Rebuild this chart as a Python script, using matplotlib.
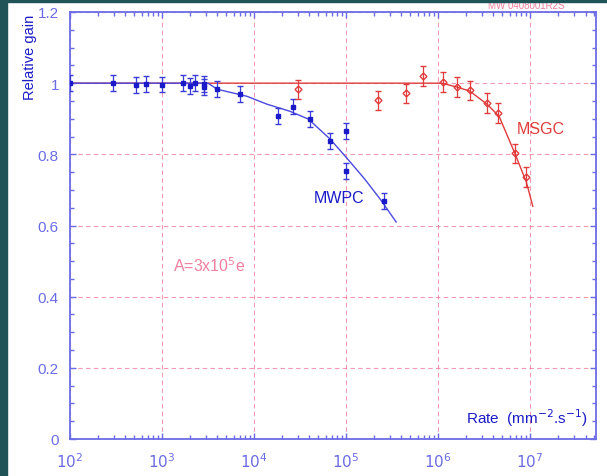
import matplotlib
matplotlib.use("Agg")
import matplotlib.pyplot as plt
from matplotlib.patches import Rectangle
import matplotlib.ticker as mticker

plt.rcParams['font.family'] = ['Liberation Sans', 'DejaVu Sans']

# MWPC data (blue)
mwpc_rate = [100, 293, 520, 670, 1000, 1690, 2000, 2290, 2860, 2860, 3970, 7000,
             18000, 26500, 41000, 67000, 100000, 100000, 260000]
mwpc_gain = [1.0, 1.0, 0.994, 0.997, 0.996, 1.0, 0.992, 1.0, 0.997, 0.989, 0.983, 0.969,
             0.907, 0.934, 0.899, 0.837, 0.865, 0.753, 0.669]
mwpc_err = 0.022

# MSGC data (red)
msgc_rate = [30000, 223000, 450000, 690000, 1130000, 1610000, 2230000, 3400000,
             4500000, 6900000, 9100000]
msgc_gain = [0.983, 0.952, 0.972, 1.02, 1.003, 0.989, 0.98, 0.944, 0.916, 0.803, 0.736]
msgc_err = 0.027

# Fit curves
mwpc_fit_rate = [100, 3160, 3970, 8400, 13800, 24500, 39000, 67000, 100000, 160000, 235000, 350000]
mwpc_fit_gain = [1.0, 1.0, 0.983, 0.963, 0.941, 0.921, 0.899, 0.843, 0.792, 0.730, 0.674, 0.61]
msgc_fit_rate = [100, 1100000, 1600000, 2200000, 3400000, 4600000, 6900000, 9100000, 10700000]
msgc_fit_gain = [1.0, 1.0, 0.989, 0.978, 0.941, 0.907, 0.80, 0.722, 0.654]

x_ticks = [1e2, 1e3, 1e4, 1e5, 1e6, 1e7]
x_ticklabels = ['$10^{2}$', '$10^{3}$', '$10^{4}$', '$10^{5}$', '$10^{6}$', '$10^{7}$']
y_ticks = [0, 0.2, 0.4, 0.6, 0.8, 1.0, 1.2]
y_ticklabels = ['0', '0.2', '0.4', '0.6', '0.8', '1', '1.2']

BLUE = '#1a1ac8'
AXBLUE = '#6b6be6'
RED = '#e03c3c'
PINK = '#f07e9e'
DARK = '#1f5358'

W, H = 607, 477
fig = plt.figure(figsize=(W / 100, H / 100), dpi=100)
fig.patch.set_facecolor('white')
ax = fig.add_axes([70 / W, 1 - 440 / H, (596 - 70) / W, (440 - 13) / H])
ax.set_xscale('log')
ax.set_xlim(1e2, 5.2e7)
ax.set_ylim(0, 1.2)

for s in ax.spines.values():
    s.set_color(AXBLUE)
    s.set_linewidth(1.3)

ax.set_xticks(x_ticks)
ax.set_xticklabels(x_ticklabels)
ax.xaxis.set_minor_locator(mticker.LogLocator(base=10, subs=range(2, 10), numticks=20))
ax.xaxis.set_minor_formatter(mticker.NullFormatter())
ax.set_yticks(y_ticks)
ax.set_yticklabels(y_ticklabels)
ax.yaxis.set_minor_locator(mticker.MultipleLocator(0.05))
ax.tick_params(which='both', direction='in', top=True, right=True, colors=AXBLUE,
               labelcolor=AXBLUE, labelsize=11)
ax.tick_params(which='major', length=4, width=1)
ax.tick_params(which='minor', length=3, width=1)
ax.tick_params(axis='x', which='major', pad=9)
ax.tick_params(axis='y', which='major', pad=8)

ax.grid(True, which='major', color=PINK, linestyle=(0, (4, 3)), linewidth=0.8, alpha=0.8)

ax.plot(msgc_fit_rate, msgc_fit_gain, color=RED, lw=1.0, zorder=3)
ax.plot(mwpc_fit_rate, mwpc_fit_gain, color='#4a4ae0', lw=1.0, zorder=4)

ax.errorbar(mwpc_rate, mwpc_gain, yerr=mwpc_err, fmt='s', ms=3.5, color=BLUE,
            mfc=BLUE, mec=BLUE, ecolor='#3a3ad8', elinewidth=0.9, capsize=2, zorder=5)
ax.errorbar(msgc_rate, msgc_gain, yerr=msgc_err, fmt='D', ms=3.5, color=RED,
            mfc='none', mec=RED, ecolor=RED, elinewidth=0.9, capsize=2, zorder=5)

ax.text(1.6e5, 0.68, 'MWPC', color=BLUE, fontsize=11.5, ha='right', va='center')
ax.text(7.2e6, 0.874, 'MSGC', color=RED, fontsize=11.5, ha='left', va='center')
ax.text(1.32e3, 0.49, 'A=3x10$^{5}$e', color=PINK, fontsize=11.5, ha='left', va='center')
ax.text(0.985, 0.052, 'Rate  (mm$^{-2}$.s$^{-1}$)', color=BLUE, fontsize=11,
        ha='right', va='center', transform=ax.transAxes)

fig.text(30 / W, 1 - 57 / H, 'Relative gain', rotation=90, color=BLUE, fontsize=10.5,
         ha='center', va='center')

fig.text(526 / W, 1 - 6 / H, 'MW 0408001R2S', color=PINK, fontsize=7,
         ha='center', va='center', zorder=1)

fig.patches.append(Rectangle((0, 0), 7 / W, 1, transform=fig.transFigure,
                             color=DARK, zorder=10))
fig.patches.append(Rectangle((0, 1 - 2.5 / H), 1, 2.5 / H, transform=fig.transFigure,
                             color=DARK, zorder=10))

fig.savefig('out.png', dpi=100)
